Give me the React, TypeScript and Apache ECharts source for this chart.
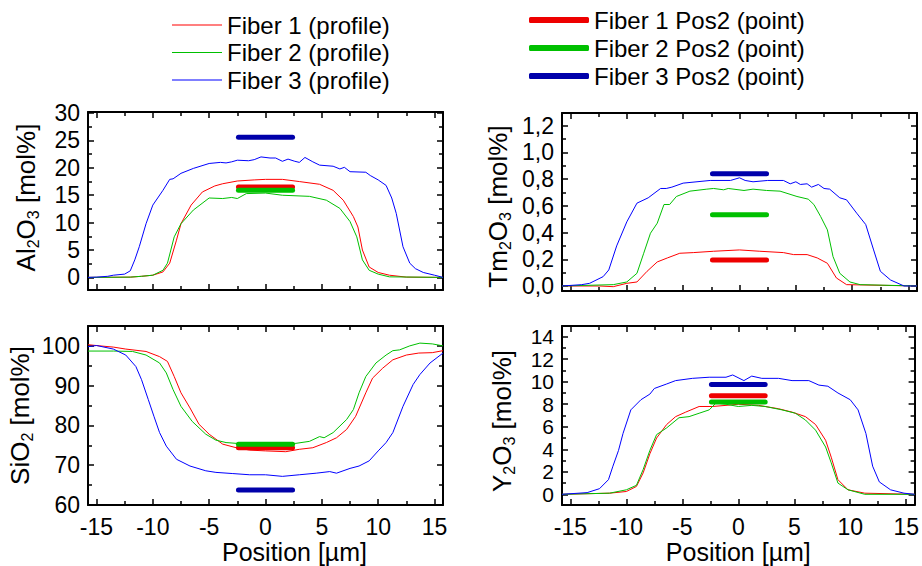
import React, { useEffect, useRef } from 'react';
import * as echarts from 'echarts';

const FONT = "'Liberation Sans', Arial, Helvetica, sans-serif";

// ---- axis ticks ----
const xMajor = [-15, -10, -5, 0, 5, 10, 15];
const xMinor = [-12.5, -7.5, -2.5, 2.5, 7.5, 12.5];
const alMajor = [0, 5, 10, 15, 20, 25, 30];
const alMinor = [2.5, 7.5, 12.5, 17.5, 22.5, 27.5];
const tmMajor = [0, 0.2, 0.4, 0.6, 0.8, 1.0, 1.2];
const tmMinor = [0.1, 0.3, 0.5, 0.7, 0.9, 1.1];
const siMajor = [60, 70, 80, 90, 100];
const siMinor = [65, 75, 85, 95];
const yoMajor = [0, 2, 4, 6, 8, 10, 12, 14];
const yoMinor = [1, 3, 5, 7, 9, 11, 13];

// ---- legend names ----
const profileNames = ['Fiber 1 (profile)', 'Fiber 2 (profile)', 'Fiber 3 (profile)'];
const pointNames = ['Fiber 1 Pos2 (point)', 'Fiber 2 Pos2 (point)', 'Fiber 3 Pos2 (point)'];

// ---- point measurements (Pos2), drawn from x=-2.4 to 2.4 ----
const pointX = [-2.4, 2.4];
const alPoints = [16.5, 15.9, 25.6];
const tmPoints = [0.195, 0.533, 0.84];
const siPoints = [74.4, 75.3, 63.75];
const yoPoints = [8.75, 8.2, 9.75];

// ---- profiles [position µm, mol%] ----
const alFiber1 = [[-15.75,0],[-12,0.05],[-11,0.2],[-10,0.4],[-9.1,1.0],[-8.5,2.6],[-7.9,6.8],[-7.5,9.8],[-6.6,13.2],[-5.6,15.6],[-4.5,16.7],[-3.8,17.1],[-2.5,17.6],[-1,17.8],[0,17.9],[1.5,17.9],[3,17.5],[4.8,17.0],[6,15.9],[6.9,14.1],[7.8,11.1],[8.2,9.2],[8.6,5.0],[9.2,1.9],[10,0.9],[11,0.4],[12.5,0.05],[15.75,0]];
const alFiber2 = [[-15.75,0],[-12,0.05],[-11,0.2],[-10,0.4],[-9.1,1.3],[-8.7,2.6],[-8.1,7.4],[-7.5,9.8],[-6.4,12.3],[-5,14.5],[-3.8,14.4],[-3,14.6],[-2.5,14.4],[-1.7,15.3],[0,15.4],[1.5,15.0],[3.9,14.8],[5.4,14.1],[6.6,12.6],[7.5,10.2],[8.1,7.4],[8.6,3.2],[9.2,1.3],[10,0.6],[11,0.1],[15.75,0]];
const alFiber3 = [[-15.75,0],[-15,0.05],[-14,0.2],[-13.5,0.4],[-12.5,0.6],[-12,1.2],[-11.6,3.2],[-11.2,5.6],[-10.6,9.8],[-10,13.2],[-9.1,15.9],[-8.5,17.9],[-8.2,18.0],[-7.5,19.0],[-6.4,19.9],[-5,20.8],[-4,21.0],[-3.5,20.9],[-3,21.1],[-2.5,21.4],[-1.5,21.3],[-1,21.5],[-0.4,22.0],[0.4,21.8],[0.9,21.8],[1.5,21.2],[2,21.6],[2.6,21.2],[3,21.0],[3.5,21.9],[4.2,21.1],[4.8,20.5],[6,20.3],[6.6,19.8],[7,20.1],[7.5,19.3],[8.9,19.2],[9.3,18.6],[10,17.8],[10.7,16.8],[11.2,14.5],[11.6,11.7],[12.2,5.6],[12.8,2.6],[13.3,1.6],[14,0.9],[15,0.4],[15.75,0]];

const tmFiber1 = [[-15.75,0],[-12.4,0],[-11.2,-0.005],[-10,0.02],[-9.1,0.03],[-8.2,0.11],[-7.3,0.18],[-6.4,0.21],[-5.3,0.245],[-4.1,0.25],[-2.3,0.26],[0,0.27],[1.8,0.26],[3.9,0.25],[4.8,0.235],[6,0.235],[6.9,0.21],[7.8,0.17],[8.6,0.06],[9.5,0.01],[15.75,0]];
const tmFiber2 = [[-15.75,0],[-11.2,0.01],[-10,0.03],[-9.1,0.095],[-8.5,0.245],[-7.9,0.395],[-7.3,0.47],[-6.7,0.61],[-6.2,0.61],[-5.6,0.67],[-4.4,0.71],[-2.9,0.725],[-2.3,0.73],[-1.4,0.72],[-1.0,0.73],[0.4,0.715],[1.2,0.725],[2.4,0.715],[3.6,0.71],[5.1,0.67],[6.1,0.65],[6.6,0.61],[7.2,0.52],[7.8,0.42],[8.3,0.22],[8.9,0.095],[9.8,0.03],[10.7,0.01],[15.75,0]];
const tmFiber3 = [[-15.75,0],[-14,0.01],[-13.3,0.02],[-12.1,0.07],[-11.6,0.12],[-10.9,0.30],[-10,0.48],[-9.1,0.62],[-8.1,0.66],[-7,0.73],[-6.5,0.73],[-6,0.74],[-5,0.77],[-2.6,0.79],[-0.8,0.79],[0,0.81],[0.5,0.79],[1.2,0.78],[2.5,0.79],[3.9,0.79],[4.5,0.765],[5,0.78],[5.4,0.76],[6,0.765],[6.4,0.74],[7,0.76],[7.5,0.73],[8,0.725],[8.9,0.66],[9.5,0.645],[10.4,0.545],[11.2,0.46],[11.9,0.27],[12.5,0.11],[13.4,0.045],[14.6,0],[15.75,0]];

const siFiber1 = [[-15.75,100.3],[-14.7,100],[-13.5,99.7],[-12.4,99.2],[-10.6,98.6],[-9.4,97.3],[-8.7,96.1],[-8.1,92.3],[-7.5,88.2],[-6.7,84.4],[-5.9,80.3],[-5,77.8],[-3.8,75.3],[-2.6,74.4],[-1.4,73.8],[0,73.6],[1.8,73.4],[3,74.0],[4.2,74.4],[5.4,75.7],[6.3,76.9],[7.2,79.0],[8,82.3],[8.9,88.2],[9.5,91.9],[10.4,94.4],[11.3,96.5],[12.5,97.7],[13.6,98.2],[14.8,98.3],[15.75,98.8]];
const siFiber2 = [[-15.75,98.7],[-13.5,98.7],[-11.8,98.6],[-10.6,97.7],[-9.4,95.7],[-8.8,93.2],[-8.2,89.0],[-7.5,84.8],[-6.5,81.0],[-5.3,77.8],[-4.4,76.3],[-3.5,75.7],[-2.6,75.5],[0,75.2],[2.7,75.5],[3.9,76.0],[4.8,77.2],[5.2,76.9],[6,78.2],[7.2,81.5],[7.8,84.0],[8.3,88.2],[8.9,92.3],[9.8,95.7],[10.7,97.7],[11.3,98.8],[11.9,99.0],[12.8,100],[13.7,100.7],[14.8,100.5],[15.75,100]];
const siFiber3 = [[-15.75,99.8],[-15,100.1],[-13.5,99.2],[-12.4,97.7],[-11.5,94.8],[-11,91.5],[-10.4,86.5],[-9.9,82.3],[-9.4,78.2],[-8.8,74.8],[-7.9,71.5],[-6.7,69.8],[-5.3,68.6],[-4.4,68.2],[-2.9,67.9],[-1.4,67.6],[0,67.6],[1.5,67.2],[3,67.6],[4.5,68.0],[5.7,68.4],[6.3,68.0],[7.5,69.2],[8.3,69.8],[9.2,71.1],[10,73.6],[10.7,75.7],[11.3,78.2],[12.2,84.8],[13.1,90.3],[13.7,92.8],[14.6,95.7],[15.75,98.2]];

const yoFiber1 = [[-15.75,0],[-11.5,0.1],[-10,0.25],[-9.1,0.7],[-8.5,1.9],[-7.9,3.6],[-7.3,5.0],[-6.4,6.2],[-5.6,6.9],[-4.7,7.3],[-3.5,7.8],[-2.3,7.8],[-1.1,7.9],[0,8.0],[1.8,7.9],[3.6,7.6],[4.8,7.3],[6,6.9],[6.9,6.2],[7.8,4.8],[8.3,3.3],[8.9,1.3],[9.8,0.4],[11.3,0.1],[15.75,0]];
const yoFiber2 = [[-15.75,0],[-11.5,0.1],[-10,0.4],[-9.1,0.8],[-8.5,2.2],[-7.9,3.9],[-7.3,5.3],[-6.4,5.9],[-5.3,6.8],[-4.4,6.9],[-3.5,7.2],[-2.6,7.5],[-2.0,8.1],[-1.1,8.0],[0,7.8],[1.2,7.9],[2.4,7.8],[3.9,7.5],[5.1,7.2],[6,6.6],[6.9,5.7],[7.8,4.2],[8.3,2.8],[8.9,1.0],[9.8,0.4],[11.3,0],[15.75,0]];
const yoFiber3 = [[-15.75,0],[-13.5,0.15],[-12.4,0.5],[-11.6,1.3],[-11.2,2.5],[-10.7,3.9],[-10.3,5.4],[-9.6,7.5],[-8.7,8.4],[-7.9,8.9],[-7.5,9.4],[-6.4,9.8],[-5.6,10.1],[-4.1,10.3],[-2.6,10.4],[-1.1,10.4],[-0.5,10.6],[0.5,10.1],[1.2,10.5],[2.1,10.3],[3.6,10.3],[4.8,10.1],[6.3,10.1],[7.2,9.7],[8,9.6],[8.9,9.0],[10,8.4],[10.7,7.5],[11.4,5.4],[12,2.5],[12.6,1.1],[13.6,0.4],[14.8,0.1],[15.75,0]];

const lineColors = ['#ff0000', '#00c000', '#0000ff'];
const barColors = ['#ee0000', '#00c000', '#0000aa'];

const panels = [
  { grid: { left: 88, top: 112, width: 355, height: 178 }, yMin: -2.3, yMax: 30.2, major: alMajor, minor: alMinor,
    title: '{a|Al}{s|2}{a|O}{s|3}{a| [mol%]}', nameGap: 47, namePad: [0, 0, 0, 7], comma: false, labelSize: 23,
    profiles: [alFiber1, alFiber2, alFiber3], points: alPoints, xLabels: false },
  { grid: { left: 562, top: 113, width: 355, height: 178 }, yMin: -0.0375, yMax: 1.295, major: tmMajor, minor: tmMinor,
    title: '{a|Tm}{s|2}{a|O}{s|3}{a| [mol%]}', nameGap: 49, namePad: [0, 9, 0, 0], comma: true, labelSize: 23,
    profiles: [tmFiber1, tmFiber2, tmFiber3], points: tmPoints, xLabels: false },
  { grid: { left: 88, top: 326, width: 355, height: 179 }, yMin: 60, yMax: 105, major: siMajor, minor: siMinor,
    title: '{a|SiO}{s|2}{a| [mol%]}', nameGap: 53, namePad: [0, 0, 0, 0], comma: false, labelSize: 23,
    profiles: [siFiber1, siFiber2, siFiber3], points: siPoints, xLabels: true, xNamePad: [0, 0, 0, 58] },
  { grid: { left: 562, top: 326, width: 355, height: 179 }, yMin: -0.95, yMax: 14.95, major: yoMajor, minor: yoMinor,
    title: '{a|Y}{s|2}{a|O}{s|3}{a| [mol%]}', nameGap: 45, namePad: [0, 11, 0, 0], comma: false, labelSize: 21,
    profiles: [yoFiber1, yoFiber2, yoFiber3], points: yoPoints, xLabels: true, xNamePad: [0, 0, 0, 0] },
];

const axisLineStyle = { color: '#000', width: 2 };
const tickStyle = { color: '#000', width: 1.5 };
const labelStyle = { color: '#000', fontFamily: FONT, hideOverlap: false, showMinLabel: true, showMaxLabel: true };

function buildOption() {
  const grid: any[] = [];
  const xAxis: any[] = [];
  const yAxis: any[] = [];
  const series: any[] = [];
  panels.forEach((p, g) => {
    grid.push({ ...p.grid, containLabel: false });
    const xc = { type: 'value', gridIndex: g, min: -15.75, max: 15.75, splitLine: { show: false } };
    xAxis.push({
      ...xc, position: 'bottom',
      axisLine: { show: true, onZero: false, lineStyle: axisLineStyle },
      axisTick: { show: true, inside: true, length: 6, customValues: xMajor, lineStyle: tickStyle },
      axisLabel: { show: p.xLabels, customValues: xMajor, margin: 12, fontSize: 23, lineHeight: 20, ...labelStyle },
      name: p.xLabels ? 'Position [µm]' : '', nameLocation: 'middle', nameGap: 34,
      nameTextStyle: { fontSize: 25, color: '#000', fontFamily: FONT, padding: p.xNamePad || [0, 0, 0, 0] },
    });
    xAxis.push({ ...xc, position: 'bottom', axisLine: { show: false, onZero: false },
      axisTick: { show: true, inside: true, length: 4, customValues: xMinor, lineStyle: tickStyle }, axisLabel: { show: false } });
    xAxis.push({ ...xc, position: 'top', axisLine: { show: true, onZero: false, lineStyle: axisLineStyle },
      axisTick: { show: true, inside: true, length: 6, customValues: xMajor, lineStyle: tickStyle }, axisLabel: { show: false } });
    xAxis.push({ ...xc, position: 'top', axisLine: { show: false, onZero: false },
      axisTick: { show: true, inside: true, length: 4, customValues: xMinor, lineStyle: tickStyle }, axisLabel: { show: false } });

    const yc = { type: 'value', gridIndex: g, min: p.yMin, max: p.yMax, splitLine: { show: false } };
    yAxis.push({
      ...yc, position: 'left',
      axisLine: { show: true, onZero: false, lineStyle: axisLineStyle },
      axisTick: { show: true, inside: true, length: 6, customValues: p.major, lineStyle: tickStyle },
      axisLabel: { show: true, customValues: p.major, margin: 8, fontSize: p.labelSize, lineHeight: 18, ...labelStyle,
        formatter: (v: number) => (p.comma ? v.toFixed(1).replace('.', ',') : String(v)) },
      name: p.title, nameLocation: 'middle', nameGap: p.nameGap,
      nameTextStyle: { color: '#000', fontFamily: FONT, padding: p.namePad,
        rich: { a: { fontSize: 26, color: '#000', fontFamily: FONT },
                s: { fontSize: 16, color: '#000', fontFamily: FONT, verticalAlign: 'bottom', lineHeight: 30 } } },
    });
    yAxis.push({ ...yc, position: 'left', axisLine: { show: false, onZero: false },
      axisTick: { show: true, inside: true, length: 4, customValues: p.minor, lineStyle: tickStyle }, axisLabel: { show: false } });
    yAxis.push({ ...yc, position: 'right', axisLine: { show: true, onZero: false, lineStyle: axisLineStyle },
      axisTick: { show: true, inside: true, length: 6, customValues: p.major, lineStyle: tickStyle }, axisLabel: { show: false } });
    yAxis.push({ ...yc, position: 'right', axisLine: { show: false, onZero: false },
      axisTick: { show: true, inside: true, length: 4, customValues: p.minor, lineStyle: tickStyle }, axisLabel: { show: false } });

    p.profiles.forEach((d, i) => {
      series.push({
        type: 'line', name: profileNames[i], xAxisIndex: g * 4, yAxisIndex: g * 4, data: d,
        showSymbol: false, symbol: 'none', smooth: false, clip: true,
        itemStyle: { color: lineColors[i] }, lineStyle: { color: lineColors[i], width: 1 }, z: 2,
      });
    });
    p.points.forEach((v, i) => {
      series.push({
        type: 'line', name: pointNames[i], xAxisIndex: g * 4, yAxisIndex: g * 4,
        data: pointX.map((x) => [x, v]), showSymbol: false, symbol: 'none',
        itemStyle: { color: barColors[i] }, lineStyle: { color: barColors[i], width: 5, cap: 'round' }, z: 3,
      });
    });
  });

  return {
    animation: false,
    backgroundColor: '#fff',
    grid, xAxis, yAxis, series,
    legend: [
      {
        left: 172, top: 13, padding: 0, orient: 'vertical', itemWidth: 50, itemHeight: 1, itemGap: 3.5, selectedMode: false,
        textStyle: { fontSize: 24, color: '#000', fontFamily: FONT, lineHeight: 24 },
        data: profileNames.map((n, i) => ({ name: n, icon: 'rect', itemStyle: { color: lineColors[i] } })),
      },
      {
        left: 529, top: 8, padding: 0, orient: 'vertical', itemWidth: 60, itemHeight: 6, itemGap: 4, selectedMode: false,
        textStyle: { fontSize: 24, color: '#000', fontFamily: FONT, lineHeight: 24 },
        data: pointNames.map((n, i) => ({ name: n, icon: 'roundRect', itemStyle: { color: barColors[i] } })),
      },
    ],
  };
}

export default function App() {
  const ref = useRef<HTMLDivElement>(null);
  useEffect(() => {
    if (!ref.current) return;
    const chart = echarts.init(ref.current, null, { renderer: 'svg' });
    chart.setOption(buildOption() as any);
    return () => chart.dispose();
  }, []);
  return <div ref={ref} style={{ position: 'absolute', left: 0, top: 0, width: 922, height: 566, background: '#fff' }} />;
}
